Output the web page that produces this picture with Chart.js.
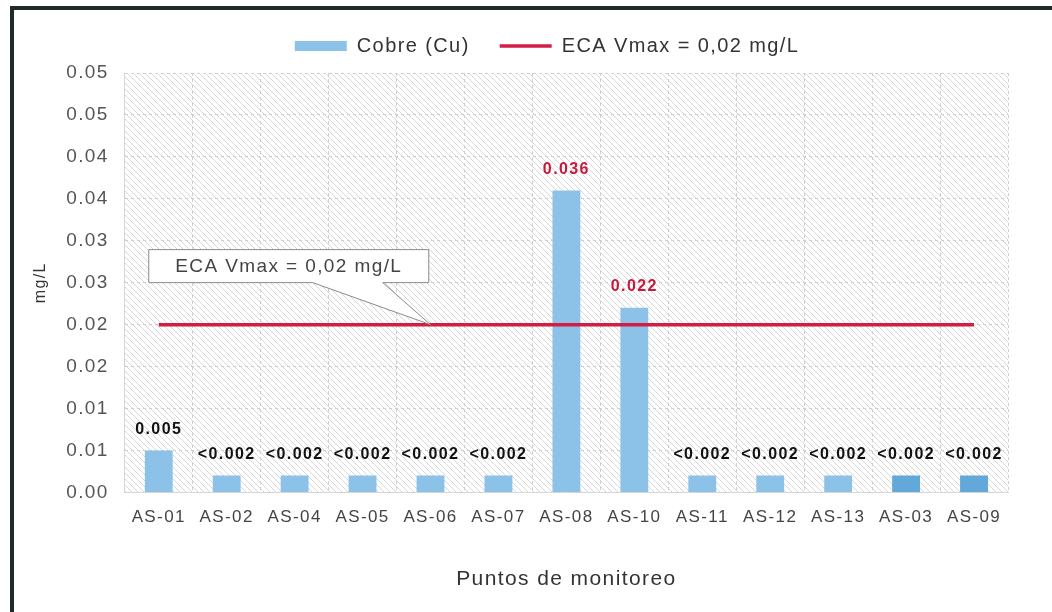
<!DOCTYPE html>
<html>
<head>
<meta charset="utf-8">
<script src="https://cdn.jsdelivr.net/npm/chart.js@4.4.1/dist/chart.umd.min.js"></script>
<style>
  html, body { margin: 0; padding: 0; background: #fff; overflow: hidden; }
  #frame { position: absolute; left: 10px; top: 6px; width: 1200px; height: 800px;
           border-left: 4px solid #1f2b26; border-top: 4px solid #1f2b26; }
  #wrap { position: absolute; left: 0; top: 0; width: 1052px; height: 612px; }
</style>
</head>
<body>
<div id="frame"></div>
<div id="wrap"><canvas id="chart-target"></canvas></div>
<script>
const puntos = ['AS-01', 'AS-02', 'AS-04', 'AS-05', 'AS-06', 'AS-07', 'AS-08', 'AS-10', 'AS-11', 'AS-12', 'AS-13', 'AS-03', 'AS-09'];
const cobre = [0.005, 0.002, 0.002, 0.002, 0.002, 0.002, 0.036, 0.022, 0.002, 0.002, 0.002, 0.002, 0.002];
const etiquetas = ['0.005', '<0.002', '<0.002', '<0.002', '<0.002', '<0.002', '0.036', '0.022', '<0.002', '<0.002', '<0.002', '<0.002', '<0.002'];
const ecaVmax = [0.02, 0.02, 0.02, 0.02, 0.02, 0.02, 0.02, 0.02, 0.02, 0.02, 0.02, 0.02, 0.02];
const yTickLabels = ['0.00', '0.01', '0.01', '0.02', '0.02', '0.03', '0.03', '0.04', '0.04', '0.05', '0.05'];

const FONT = "'Liberation Sans', Arial, sans-serif";
const barColors = cobre.map((v, i) => (i >= 11 ? 'rgb(98, 168, 216)' : 'rgb(140, 194, 232)'));
const labelColors = cobre.map(v => (v > 0.02 ? 'rgb(200, 25, 60)' : '#111'));

// hatch pattern for the plot area
function makeHatch() {
    const c = document.createElement('canvas');
    c.width = 6; c.height = 6;
    const g = c.getContext('2d');
    g.fillStyle = '#fff';
    g.fillRect(0, 0, 6, 6);
    g.strokeStyle = 'rgba(175,175,175,0.5)';
    g.lineWidth = 1;
    g.beginPath();
    g.moveTo(0, 0); g.lineTo(6, 6);
    g.moveTo(-3, 3); g.lineTo(3, 9);
    g.moveTo(3, -3); g.lineTo(9, 3);
    g.stroke();
    return g.createPattern(c, 'repeat');
}

// the scanned chart has wide letter spacing
const spacingPlugin = {
    id: 'spacing',
    beforeLayout(chart) { chart.ctx.letterSpacing = '1.4px'; },
    beforeDraw(chart) { chart.ctx.letterSpacing = '1.4px'; }
};

// legend sits a bit lower and right of centre
const legendMargin = {
    id: 'legendMargin',
    beforeInit(chart) {
        const fit = chart.legend.fit;
        chart.legend.fit = function () {
            fit.call(this);
            this.height += 7;
        };
    },
    afterLayout(chart) {
        chart.legend.left += 30;
        chart.legend.right += 30;
    }
};

const hatchPlugin = {
    id: 'hatch',
    beforeDraw(chart) {
        const { ctx, chartArea: a } = chart;
        ctx.save();
        ctx.fillStyle = makeHatch();
        ctx.fillRect(a.left, a.top, a.right - a.left, a.bottom - a.top);
        ctx.restore();
    }
};

const labelPlugin = {
    id: 'barLabels',
    afterDatasetsDraw(chart) {
        const { ctx } = chart;
        const meta = chart.getDatasetMeta(0);
        ctx.save();
        ctx.font = 'bold 16px ' + FONT;
        ctx.textAlign = 'center';
        ctx.textBaseline = 'middle';
        meta.data.forEach((bar, i) => {
            ctx.fillStyle = labelColors[i];
            ctx.fillText(etiquetas[i], bar.x, bar.y - 21);
        });
        ctx.restore();
    }
};

const calloutPlugin = {
    id: 'callout',
    afterDraw(chart) {
        const { ctx, chartArea: a } = chart;
        const tipX = chart.scales.x.getPixelForValue(4);
        const tipY = chart.scales.y.getPixelForValue(0.02);
        const bx = a.left + 24, by = tipY - 75, w = 280, h = 33;
        ctx.save();
        ctx.beginPath();
        ctx.moveTo(bx, by);
        ctx.lineTo(bx + w, by);
        ctx.lineTo(bx + w, by + h);
        ctx.lineTo(bx + 234, by + h);
        ctx.lineTo(tipX, tipY);
        ctx.lineTo(bx + 164, by + h);
        ctx.lineTo(bx, by + h);
        ctx.closePath();
        ctx.fillStyle = '#fff';
        ctx.fill();
        ctx.strokeStyle = '#8a8a8a';
        ctx.lineWidth = 1;
        ctx.stroke();
        ctx.fillStyle = '#444';
        ctx.font = '19px ' + FONT;
        ctx.textAlign = 'center';
        ctx.textBaseline = 'middle';
        ctx.fillText('ECA Vmax = 0,02 mg/L', bx + w / 2, by + h / 2 + 1);
        ctx.restore();
    }
};

let target = document.getElementById('chart-target');
let content = new Chart(target, {
    type: 'bar',
    data: {
        labels: puntos,
        datasets: [{
            type: 'bar',
            label: 'Cobre (Cu)',
            data: cobre,
            backgroundColor: barColors,
            borderWidth: 0,
            barPercentage: 0.41,
            categoryPercentage: 1,
            pointStyle: 'rect',
            order: 1,
        }, {
            type: 'line',
            label: 'ECA Vmax = 0,02 mg/L',
            data: ecaVmax,
            borderColor: 'rgb(210, 30, 68)',
            backgroundColor: 'rgb(210, 30, 68)',
            borderWidth: 3.5,
            pointRadius: 0,
            pointStyle: 'line',
            order: 0,
        }],
    },
    options: {
        responsive: true,
        maintainAspectRatio: false,
        animation: false,
        layout: { padding: { top: 6, left: 26, right: 44, bottom: 20 } },
        plugins: {
            tooltip: { enabled: false },
            legend: {
                position: 'top',
                labels: {
                    usePointStyle: true,
                    pointStyleWidth: 52,
                    boxHeight: 10,
                    padding: 30,
                    color: '#333',
                    font: { family: FONT, size: 20 },
                    sort: (a, b) => a.datasetIndex - b.datasetIndex,
                },
            },
        },
        scales: {
            x: {
                offset: true,
                grid: { color: '#cfcfcf', offset: true, drawTicks: false },
                border: { display: true, color: '#d6d6d6', dash: [3, 3] },
                ticks: { color: '#444', font: { family: FONT, size: 17 }, padding: 15 },
                title: { display: true, text: 'Puntos de monitoreo', color: '#333', font: { family: FONT, size: 21 }, padding: { top: 24, bottom: 0 } },
            },
            y: {
                min: 0,
                max: 0.05,
                grid: { color: '#cfcfcf', drawTicks: false },
                border: { display: true, color: '#d6d6d6', dash: [3, 3] },
                ticks: {
                    stepSize: 0.005,
                    color: '#555',
                    padding: 16,
                    font: { family: FONT, size: 19 },
                    callback: (v, i) => yTickLabels[i],
                },
                title: { display: true, text: 'mg/L', color: '#333', font: { family: FONT, size: 16 }, padding: { top: 5, bottom: 0 } },
            },
        },
    },
    plugins: [spacingPlugin, legendMargin, hatchPlugin, labelPlugin, calloutPlugin],
});
</script>
</body>
</html>
